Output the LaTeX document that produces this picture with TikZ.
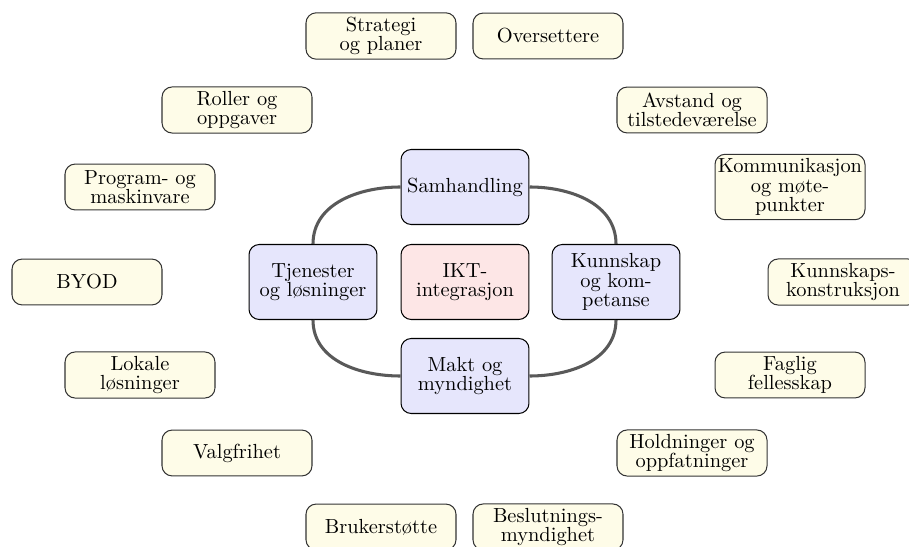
\documentclass[tikz,border=0pt]{standalone}
\definecolor{cream}{RGB}{254,252,232}
\definecolor{lav}{RGB}{230,230,252}
\definecolor{rose}{RGB}{253,230,230}
\begin{document}
\begin{tikzpicture}[x=0.49pt,y=-0.49pt,
  every node/.style={font=\fontsize{10}{9.6}\selectfont},
  outer/.style={draw=black!80, fill=cream, rounded corners=5pt, minimum width=73.5pt, minimum height=22.5pt, align=center, inner xsep=1pt, inner ysep=2pt, line width=0.5pt},
  core/.style={draw=black, fill=lav, rounded corners=5pt, minimum width=62.7pt, minimum height=36.75pt, align=center, inner sep=1pt, line width=0.5pt},
  hub/.style={core, fill=rose},
  ring/.style={line width=1.5pt, draw=black!65}]
\useasboundingbox (0,0) rectangle (909,547);
% core
\node[core] (sam) at (465,187) {Samhandling};
\node[core] (tje) at (313,282) {Tjenester\\og løsninger};
\node[hub]  (ikt) at (465,282) {IKT-\\integrasjon};
\node[core] (kun) at (616,282) {Kunnskap\\og kom-\\petanse};
\node[core] (mak) at (465,376) {Makt og\\myndighet};
\draw[ring] (sam.west) to[out=180,in=90] (tje.north);
\draw[ring] (sam.east) to[out=0,in=90] (kun.north);
\draw[ring] (tje.south) to[out=-90,in=180] (mak.west);
\draw[ring] (kun.south) to[out=-90,in=0] (mak.east);
% outer
\node[outer] (o1)  at (381,36)  {Strategi\\og planer};
\node[outer] (o2)  at (548,36)  {Oversettere};
\node[outer] (o3)  at (237,110) {Roller og\\oppgaver};
\node[outer] (o4)  at (692,110) {Avstand og\\tilstedeværelse};
\node[outer] (o5)  at (140,187) {Program- og\\maskinvare};
\node[outer] (o6)  at (790,187) {Kommunikasjon\\og møte-\\punkter};
\node[outer] (o7)  at (87,282)  {BYOD};
\node[outer] (o8)  at (843,282) {Kunnskaps-\\konstruksjon};
\node[outer] (o9)  at (140,375) {Lokale\\løsninger};
\node[outer] (o10) at (790,375) {Faglig\\fellesskap};
\node[outer] (o11) at (237,453) {Valgfrihet};
\node[outer] (o12) at (692,453) {Holdninger og\\oppfatninger};
\node[outer] (o13) at (381,527) {Brukerstøtte};
\node[outer] (o14) at (548,527) {Beslutnings-\\myndighet};
\end{tikzpicture}
\end{document}
